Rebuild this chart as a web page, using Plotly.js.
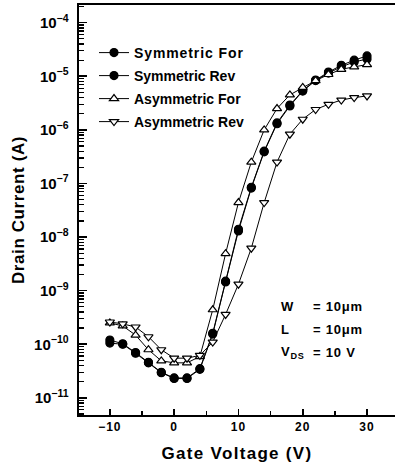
<!DOCTYPE html>
<html>
<head>
<meta charset="utf-8">
<script src="https://cdn.plot.ly/plotly-3.0.1.min.js"></script>
<style>
html,body{margin:0;padding:0;background:#fff;}
#chart{width:396px;height:468px;}
.legendtext{letter-spacing:0.9px;}
.xtitle{letter-spacing:1.3px;}
.ytitle{letter-spacing:0.6px;}
.xtick text{letter-spacing:1px;}
.annotation-text{letter-spacing:0.8px;}
</style>
</head>
<body>
<div id="chart"></div>
<script>
var gateV = [-10,-8,-6,-4,-2,0,2,4,6,8,10,12,14,16,18,20,22,24,26,28,30];
var symFor = [1.2e-10,1.02e-10,7.0e-11,4.6e-11,3.0e-11,2.35e-11,2.35e-11,3.5e-11,1.6e-10,1.5e-9,1.4e-8,8.5e-8,4.0e-7,1.35e-6,2.9e-6,5.4e-6,8.5e-6,1.2e-5,1.6e-5,2.0e-5,2.4e-5];
var symRev = [1.05e-10,1.0e-10,6.8e-11,4.5e-11,2.95e-11,2.3e-11,2.3e-11,3.4e-11,1.55e-10,1.45e-9,1.3e-8,8.2e-8,3.9e-7,1.3e-6,2.8e-6,5.3e-6,8.3e-6,1.15e-5,1.5e-5,1.85e-5,2.1e-5];
var asymFor = [2.5e-10,2.2e-10,1.48e-10,7.9e-11,4.9e-11,4.5e-11,4.5e-11,5.9e-11,4.4e-10,4.9e-9,4.4e-8,2.5e-7,1.0e-6,2.5e-6,4.5e-6,6.2e-6,8.3e-6,1.08e-5,1.35e-5,1.5e-5,1.65e-5];
var asymRev = [2.6e-10,2.4e-10,2.1e-10,1.38e-10,7.9e-11,5.5e-11,5.5e-11,6.2e-11,1.1e-10,3.6e-10,1.32e-9,6.2e-9,4.4e-8,2.5e-7,8.3e-7,1.58e-6,2.4e-6,3.0e-6,3.6e-6,4.0e-6,4.3e-6];
var seriesNames = ["Symmetric For","Symmetric Rev","Asymmetric For","Asymmetric Rev"];
var xTickVals = [-10,0,10,20,30];
var xMinorVals = [-15,-5,5,15,25];
var paramLabels = ["W","L","V<sub>DS</sub>"];
var paramValues = ["= 10\u03bcm","= 10\u03bcm","= 10 V"];

var FONT = "Liberation Sans, Arial, sans-serif";
var legNames = ['legend','legend2','legend3','legend4'];
function tr(y, idx, sym, fill){
  return {x: gateV, y: y, name: seriesNames[idx], type:'scatter', mode:'lines+markers',
    legend: legNames[idx],
    line:{color:'#000', width:1},
    marker:{symbol: sym, size: 8, color: fill, line:{color:'#000', width:1.2}}};
}
var data = [
  // transparent copy that only carries the minor-tick axis
  {x: gateV, y: symFor, type:'scatter', mode:'markers', yaxis:'y2', showlegend:false,
   hoverinfo:'skip', opacity:0, marker:{size:1}},
  tr(symFor, 0, 'circle', '#000'),
  tr(symRev, 1, 'circle', '#000'),
  tr(asymFor, 2, 'triangle-up', '#fff'),
  tr(asymRev, 3, 'triangle-down', '#fff')
];
// minor tick positions on the log axis (2..9 x 10^n)
var yMinor = [];
for (var e=-12; e<=-4; e++){ for (var m=2; m<=9; m++){ yMinor.push(m*Math.pow(10,e)); } }

var ann = [];
var rowY = [306, 329, 352];
for (var i=0;i<3;i++){
  var py = 1 - (rowY[i]-5)/410;
  ann.push({xref:'paper', yref:'paper', x:(279-79)/316, y:py, xanchor:'left', yanchor:'middle',
    text:paramLabels[i], showarrow:false, font:{family:FONT, size:13, weight:'bold', color:'#000'}});
  ann.push({xref:'paper', yref:'paper', x:(311-79)/316, y:py, xanchor:'left', yanchor:'middle',
    text:paramValues[i], showarrow:false, font:{family:FONT, size:13, weight:'bold', color:'#000'}});
}
var legRowY = [53, 76, 99, 122];
function legendCfg(k){
  return {x:(94-79)/316, y:1-(legRowY[k]-5)/410, xanchor:'left', yanchor:'middle',
    bgcolor:'rgba(0,0,0,0)', borderwidth:0,
    font:{family:FONT, size:14, weight:'bold', color:'#000'}, itemwidth:30};
}
var yRange = [-11.32,-3.67];
var layout = {
  width:396, height:468,
  margin:{l:79, r:1, t:5, b:53},
  paper_bgcolor:'#fff', plot_bgcolor:'#fff',
  font:{family:FONT, color:'#000', weight:'bold'},
  showlegend:true,
  legend: legendCfg(0), legend2: legendCfg(1), legend3: legendCfg(2), legend4: legendCfg(3),
  xaxis:{type:'linear', range:[-14.8, 34.35], tickvals:xTickVals, ticks:'inside', ticklen:6, tickwidth:1.6,
    tickcolor:'#000', showline:true, linewidth:2, linecolor:'#000', mirror:true, showgrid:false, zeroline:false,
    minor:{tickvals:xMinorVals, ticks:'inside', ticklen:4, tickwidth:1.3, tickcolor:'#000'},
    tickfont:{family:FONT, size:12, weight:'bold'},
    title:{text:'Gate Voltage (V)', font:{family:FONT, size:17, weight:'bold'}, standoff:14}},
  yaxis:{type:'log', range:yRange, dtick:1, exponentformat:'power', ticks:'inside', ticklen:8, tickwidth:1.6,
    tickcolor:'#000', showline:true, linewidth:2, linecolor:'#000', mirror:false, showgrid:false, zeroline:false,
    tickfont:{family:FONT, size:12, weight:'bold'}, ticklabelstandoff:6,
    title:{text:'Drain Current (A)', font:{family:FONT, size:17, weight:'bold'}, standoff:5}},
  yaxis2:{type:'log', range:yRange, overlaying:'y', side:'left', anchor:'x',
    tickmode:'array', tickvals:yMinor, showticklabels:false, ticks:'inside', ticklen:5, tickwidth:1.3,
    tickcolor:'#000', showline:false, showgrid:false, zeroline:false},
  annotations: ann
};
Plotly.newPlot('chart', data, layout, {displayModeBar:false, staticPlot:true});
</script>
</body>
</html>
